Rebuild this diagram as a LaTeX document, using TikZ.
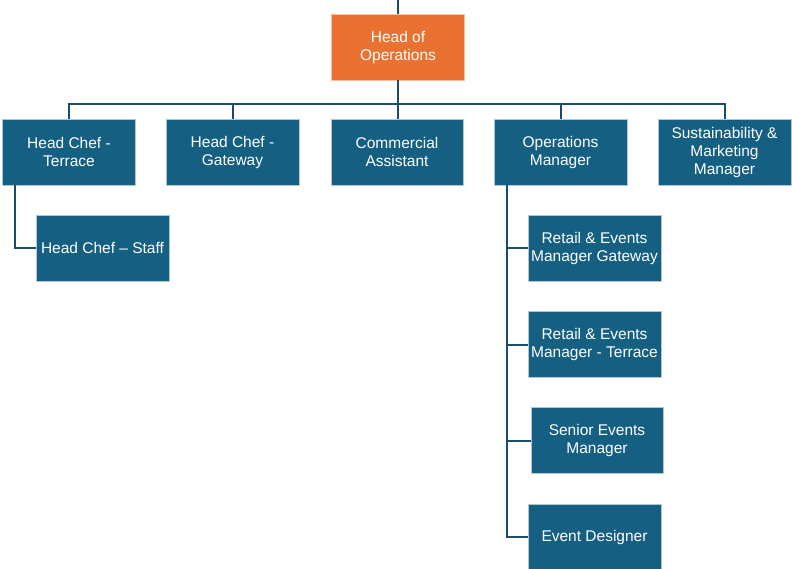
\documentclass[tikz,border=0pt]{standalone}
\usepackage{fontspec}
\setmainfont{Liberation Sans}
\definecolor{boxblue}{HTML}{156082}
\definecolor{headorange}{HTML}{E97132}
\definecolor{linkblue}{HTML}{1B4D68}

\begin{document}
\begin{tikzpicture}[x=1pt, y=-1pt,
    orgbox/.style={draw=boxblue!35!white, line width=0.6pt, fill=boxblue, text=white,
        minimum width=133pt, minimum height=66pt, align=center, inner xsep=0pt,
        font=\fontsize{15.5}{18}\selectfont},
    headbox/.style={orgbox, fill=headorange, draw=headorange!45!white},
    link/.style={draw=linkblue, line width=2pt}]
    \useasboundingbox (0,0) rectangle (792,569);
    \node[headbox] (head) at (398,47) {Head of\\Operations};
    \node[orgbox] (hct) at (69,152) {Head Chef -\\Terrace};
    \node[orgbox] (hcg) at (232.5,152) {Head Chef -\\Gateway};
    \node[orgbox, minimum width=132pt] (ca) at (397,152) {Commercial\\Assistant};
    \node[orgbox] (om) at (560.5,152) {Operations\\Manager};
    \node[orgbox] (sm) at (724.5,152) {Sustainability \&\\Marketing\\Manager};
    \node[orgbox] (hcs) at (102.5,248) {Head Chef -- Staff};
    \node[orgbox] (rg) at (594.5,248.5) {Retail \& Events\\Manager Gateway};
    \node[orgbox] (rt) at (594.5,344.5) {Retail \& Events\\Manager - Terrace};
    \node[orgbox, minimum width=132pt] (se) at (597,440.5) {Senior Events\\Manager};
    \node[orgbox] (ed) at (594.5,537) {Event Designer};
    % connectors
    \coordinate (top) at (398,0);
    \coordinate (bus) at (397,104);
    \coordinate (spine) at ([xshift=-54pt]om.south);
    \draw[link] (top) -- (head.north);
    \draw[link] (head.south) -- (head.south |- ca.north);
    \draw[link] (hct.north) |- (bus) -| (sm.north);
    \draw[link] (hcg.north) -- (hcg.north |- bus);
    \draw[link] (om.north) -- (om.north |- bus);
    \draw[link] ([xshift=-54pt]hct.south) |- (hcs.west);
    \draw[link] (spine) |- (ed.west);
    \foreach \n in {rg,rt,se}
        \draw[link] (\n.west) -- (\n.west -| spine);
\end{tikzpicture}
\end{document}
